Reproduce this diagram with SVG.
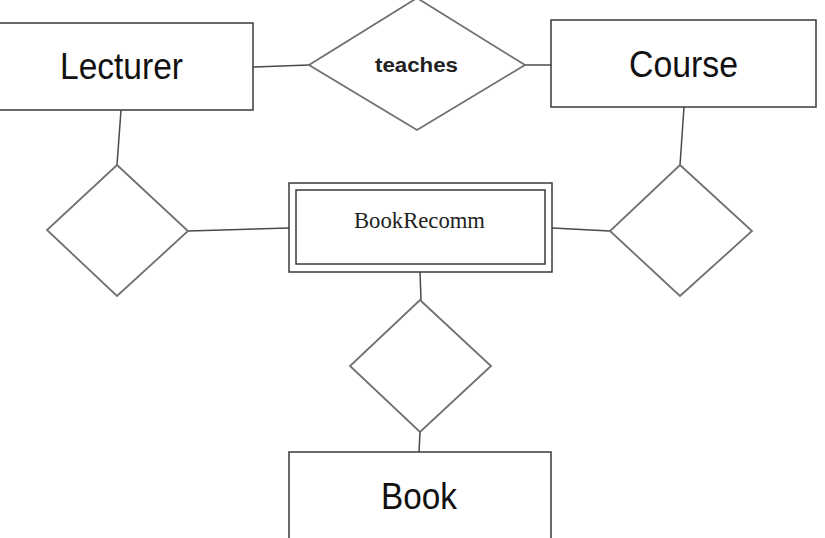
<svg xmlns="http://www.w3.org/2000/svg" width="825" height="538" viewBox="0 0 825 538">
<style>
.ent{fill:#fff;stroke:#3a3a3a;stroke-width:1.5}
.rel{fill:#fff;stroke:#707070;stroke-width:1.8}
.ln{stroke:#4a4a4a;stroke-width:1.5;fill:none}
.t{font-family:"Liberation Sans",Arial,sans-serif;font-size:36px;fill:#111;text-anchor:middle}
.ts{font-family:"Liberation Sans",Arial,sans-serif;font-size:21px;font-weight:bold;fill:#222;text-anchor:middle}
.tr{font-family:"Liberation Serif","Times New Roman",serif;font-size:24px;fill:#222;text-anchor:middle}
</style>
<rect width="825" height="538" fill="#fff"/>
<g id="connectors">
<line class="ln" x1="253" y1="67" x2="309" y2="65"/>
<line class="ln" x1="525" y1="65" x2="551" y2="65"/>
<line class="ln" x1="121" y1="110" x2="117" y2="165"/>
<line class="ln" x1="684" y1="107" x2="680" y2="165"/>
<line class="ln" x1="188" y1="231" x2="289" y2="228"/>
<line class="ln" x1="610" y1="231" x2="552" y2="228"/>
<line class="ln" x1="420" y1="272" x2="421" y2="300"/>
<line class="ln" x1="420" y1="432" x2="419" y2="452"/>
</g>
<g id="lecturer">
<rect class="ent" x="-1" y="23" width="254" height="87"/>
<text class="t" x="121.5" y="79" textLength="123" lengthAdjust="spacingAndGlyphs">Lecturer</text>
</g>
<g id="teaches">
<polygon class="rel" points="417,-2 525,65 417,130 309,65"/>
<text class="ts" x="416.5" y="72" textLength="83" lengthAdjust="spacingAndGlyphs">teaches</text>
</g>
<g id="course">
<rect class="ent" x="551" y="20" width="265" height="87"/>
<text class="t" x="683.5" y="77" textLength="109" lengthAdjust="spacingAndGlyphs">Course</text>
</g>
<g id="rel-left">
<polygon class="rel" points="117,165 188,231 117,296 47,230"/>
</g>
<g id="rel-right">
<polygon class="rel" points="680,165 752,231 680,296 610,231"/>
</g>
<g id="bookrecomm">
<rect class="ent" x="289" y="183" width="263" height="89"/>
<rect class="ent" x="296" y="190" width="249" height="74"/>
<text class="tr" x="419.5" y="228" textLength="131" lengthAdjust="spacingAndGlyphs">BookRecomm</text>
</g>
<g id="rel-bottom">
<polygon class="rel" points="420,300 491,366 420,432 350,366"/>
</g>
<g id="book">
<rect class="ent" x="289" y="452" width="262" height="90"/>
<text class="t" x="419" y="509" textLength="76" lengthAdjust="spacingAndGlyphs">Book</text>
</g>
</svg>
